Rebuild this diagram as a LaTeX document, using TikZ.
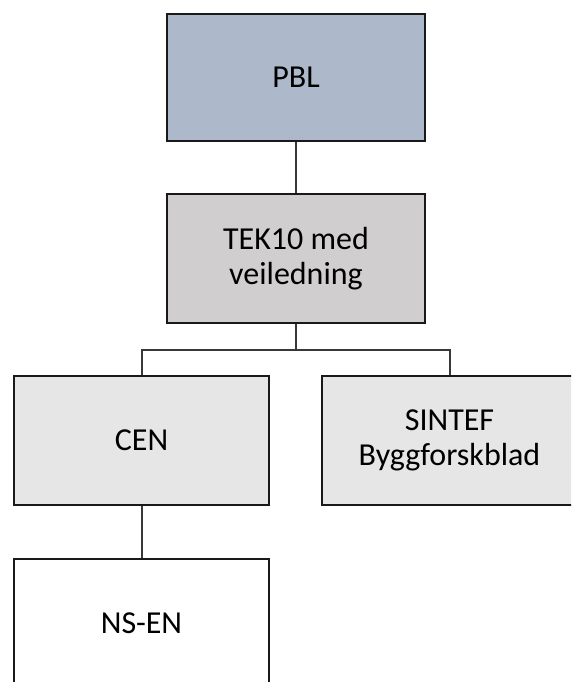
\documentclass[tikz,border=0pt]{standalone}
\usepackage{fontspec}
\setmainfont{Carlito}
\begin{document}
\begin{tikzpicture}[x=1pt,y=1pt,
  box/.style={draw=black!90, line width=2pt, minimum width=256pt, minimum height=128pt,
    align=center, inner sep=0pt, font=\fontsize{32}{35}\selectfont},
  conn/.style={draw=black!78, line width=2pt}]
\definecolor{pblfill}{HTML}{ADB9CA}
\definecolor{tekfill}{HTML}{D0CECE}
\definecolor{lvlfill}{HTML}{E7E6E6}
\useasboundingbox (0,0) rectangle (571,-682);
\clip (0,0) rectangle (571,-682);
\node[box, fill=pblfill, minimum width=258pt, minimum height=127pt] (pbl) at (296,-77.5) {PBL};
\node[box, fill=tekfill, minimum width=258pt, minimum height=129pt] (tek) at (296,-258.5) {TEK10 med\\veiledning};
\node[box, fill=lvlfill, minimum width=255pt, minimum height=129pt] (cen) at (141.5,-440.5) {CEN};
\node[box, fill=lvlfill, minimum width=255pt, minimum height=129pt] (sintef) at (449.5,-440.5) {SINTEF\\Byggforskblad};
\node[box, fill=white, minimum width=255pt, minimum height=129pt] (nsen) at (141.5,-623.5) {NS-EN};
\coordinate (jy) at (0,-350);
\draw[conn] (pbl.south) -- (tek.north);
\draw[conn] (tek.south) -- (tek.south |- jy);
\draw[conn] (cen.north) |- (tek.south |- jy) -| (sintef.north);
\draw[conn] (cen.south) -- (nsen.north);
\end{tikzpicture}
\end{document}
